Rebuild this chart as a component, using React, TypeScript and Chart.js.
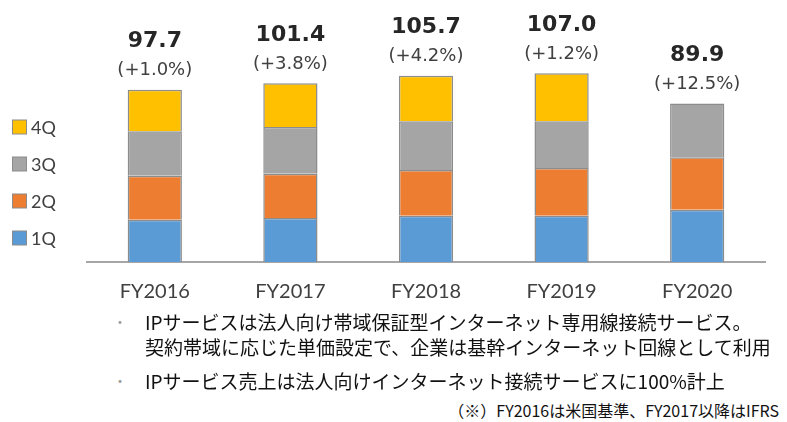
import React, { useEffect, useRef } from "react";
import { Chart, registerables } from "chart.js";

Chart.register(...registerables);

const categories = ["FY2016", "FY2017", "FY2018", "FY2019", "FY2020"];
const q1 = [24.0, 25.0, 26.3, 26.3, 29.7];
const q2 = [24.9, 25.0, 25.9, 27.0, 29.7];
const q3 = [25.2, 26.5, 27.6, 26.5, 30.5];
const q4 = [23.6, 24.9, 25.9, 27.2, null];
const totals = ["97.7", "101.4", "105.7", "107.0", "89.9"];
const growth = ["(+1.0%)", "(+3.8%)", "(+4.2%)", "(+1.2%)", "(+12.5%)"];
const seriesNames = ["1Q", "2Q", "3Q", "4Q"];
const seriesColors = ["#5B9BD5", "#ED7D31", "#A5A5A5", "#FFC000"];

const labelsPlugin = {
  id: "topLabels",
  afterDatasetsDraw(chart: any) {
    const ctx = chart.ctx;
    categories.forEach((_, i) => {
      let top = Infinity;
      let x = 0;
      chart.data.datasets.forEach((ds: any, di: number) => {
        const el = chart.getDatasetMeta(di).data[i];
        if (ds.data[i] != null && el) {
          top = Math.min(top, el.y);
          x = el.x;
        }
      });
      ctx.save();
      ctx.textAlign = "center";
      ctx.textBaseline = "middle";
      ctx.fillStyle = "#262626";
      ctx.font = 'bold 22px "DejaVu Sans"';
      ctx.fillText(totals[i], x, top - 48);
      ctx.fillStyle = "#404040";
      ctx.font = '18px "DejaVu Sans"';
      ctx.fillText(growth[i], x, top - 19);
      ctx.restore();
    });
  },
};

const legendPlugin = {
  id: "sideLegend",
  afterDraw(chart: any) {
    const ctx = chart.ctx;
    const items = chart.data.datasets.map((d: any) => d).reverse();
    ctx.save();
    items.forEach((ds: any, k: number) => {
      const cy = 127 + k * 37;
      ctx.fillStyle = ds.backgroundColor;
      ctx.fillRect(12.5, cy - 7, 14, 14);
      ctx.strokeStyle = "#8c8c8c";
      ctx.lineWidth = 1;
      ctx.strokeRect(12.5, cy - 7, 14, 14);
      ctx.fillStyle = "#404040";
      ctx.font = '18px "Lato"';
      ctx.textAlign = "left";
      ctx.textBaseline = "middle";
      ctx.fillText(ds.label, 31, cy + 1);
    });
    ctx.restore();
  },
};

export default function App() {
  const ref = useRef<HTMLCanvasElement | null>(null);

  useEffect(() => {
    if (!ref.current) return;
    const datasets = [q1, q2, q3, q4].map((d, i) => ({
      label: seriesNames[i],
      data: d,
      backgroundColor: seriesColors[i],
      borderColor: "#8c8c8c",
      borderWidth: 1.5,
      categoryPercentage: 1,
      barPercentage: 0.4,
    }));
    const chart = new Chart(ref.current, {
      type: "bar",
      data: { labels: categories, datasets },
      options: {
        animation: false,
        responsive: false,
        devicePixelRatio: 1,
        layout: { padding: { left: 87, right: 22, top: 0, bottom: 0 } },
        plugins: { legend: { display: false }, tooltip: { enabled: false } },
        scales: {
          x: {
            stacked: true,
            grid: { display: false },
            border: { display: true, color: "#a6a6a6", width: 2 },
            ticks: { color: "#404040", font: { family: "Lato", size: 20 }, padding: 10 },
            afterFit: (s: any) => {
              s.height = 48;
            },
          },
          y: { stacked: true, display: false, min: 0, max: 148.6 },
        },
      },
      plugins: [labelsPlugin, legendPlugin],
    } as any);
    return () => chart.destroy();
  }, []);

  const textStyle: React.CSSProperties = {
    position: "absolute",
    left: 145,
    fontFamily: '"Noto Sans CJK JP", sans-serif',
    fontSize: 19,
    lineHeight: "25px",
    color: "#111",
    whiteSpace: "nowrap",
  };
  const bulletStyle: React.CSSProperties = {
    position: "absolute",
    left: 113,
    fontFamily: '"Noto Sans CJK JP", sans-serif',
    fontSize: 14,
    lineHeight: "25px",
    color: "#9a9a9a",
  };

  return (
    <div style={{ position: "absolute", left: 0, top: 0, width: 787, height: 422, background: "#fff", overflow: "hidden" }}>
      <canvas ref={ref} width={787} height={310} style={{ display: "block", width: 787, height: 310 }} />
      <div style={{ ...bulletStyle, top: 309 }}>・</div>
      <div style={{ ...textStyle, top: 309 }}>IPサービスは法人向け帯域保証型インターネット専用線接続サービス。</div>
      <div style={{ ...textStyle, top: 334 }}>契約帯域に応じた単価設定で、企業は基幹インターネット回線として利用</div>
      <div style={{ ...bulletStyle, top: 368 }}>・</div>
      <div style={{ ...textStyle, top: 368 }}>IPサービス売上は法人向けインターネット接続サービスに100%計上</div>
      <div
        style={{
          position: "absolute",
          right: 8,
          top: 399,
          fontFamily: '"Noto Sans CJK JP", sans-serif',
          fontSize: 16,
          lineHeight: "22px",
          color: "#111",
          whiteSpace: "nowrap",
        }}
      >
        （※）FY2016は米国基準、FY2017以降はIFRS
      </div>
    </div>
  );
}
